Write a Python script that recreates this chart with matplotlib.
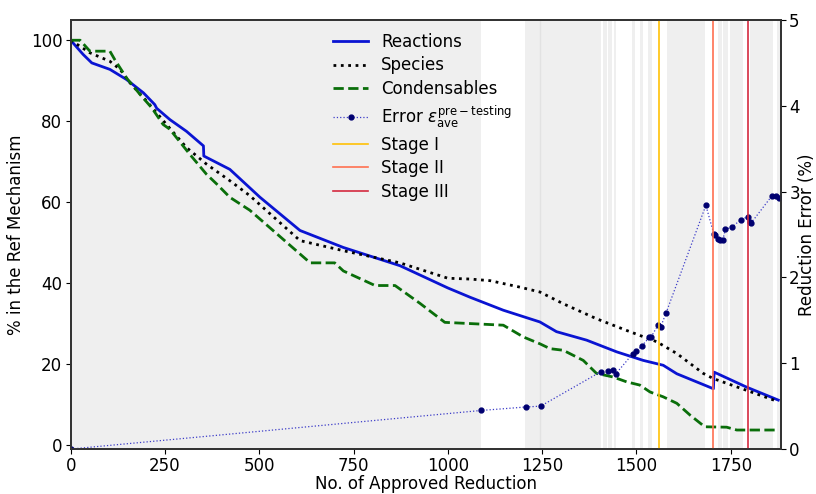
import numpy as np
import matplotlib as mpl
mpl.use('Agg')
import matplotlib.pyplot as plt

# reaction / species / condensables remaining (% of reference mechanism)
react_x = [0, 33, 56, 104, 148, 193, 223, 228, 263, 307, 352, 353, 422, 502,
           608, 723, 873, 1000, 1059, 1147, 1244, 1288, 1368, 1448, 1518,
           1571, 1607, 1704, 1706, 1792, 1876]
react_y = [100, 96.5, 94.4, 92.8, 90.3, 87, 84.1, 83.2, 80.4, 77.5, 73.9, 71.4,
           68.1, 61.2, 53, 48.8, 44.3, 38.8, 36.5, 33.3, 30.4, 28, 25.9, 23,
           20.9, 19.7, 17.6, 13.9, 18.0, 14.3, 11.1]

spec_x = [0, 25, 51, 104, 131, 157, 201, 254, 307, 360, 422, 475, 608, 723,
          873, 1000, 1059, 1112, 1191, 1244, 1306, 1394, 1474, 1554, 1607,
          1677, 1704, 1792, 1876]
spec_y = [100, 98.5, 96.9, 94.8, 92.8, 89.5, 85, 79.2, 73.5, 69.4, 65.3, 61.6,
          50.5, 48, 45, 41.2, 41, 40.6, 39, 37.8, 34.9, 31.2, 28.3, 25.5, 22.6,
          17.7, 16.4, 13.5, 10.7]

cond_x = [0, 25, 51, 104, 117, 148, 184, 215, 245, 263, 316, 360, 387, 422,
          475, 582, 635, 700, 723, 807, 860, 926, 992, 1059, 1147, 1200, 1244,
          1271, 1306, 1359, 1394, 1438, 1474, 1509, 1536, 1571, 1607, 1642,
          1681, 1739, 1766, 1876]
cond_y = [100, 100, 97.3, 97.3, 95.2, 90.7, 86.6, 83.3, 79.2, 78, 71.8, 66.9,
          64.5, 61.2, 58, 49.3, 45, 45, 43, 39.4, 39.4, 35, 30.3, 30, 29.6,
          26.7, 25, 23.8, 23.4, 20.9, 17.7, 16.8, 15.6, 14.8, 13.1, 11.9, 10.3,
          7.4, 4.5, 4.4, 3.7, 3.7]

# average pre-testing reduction error (%)
err_x = [0, 1089, 1207, 1246, 1405, 1425, 1437, 1446, 1490, 1500, 1514, 1534,
         1538, 1558, 1564, 1578, 1684, 1705, 1708, 1717, 1722, 1729, 1736,
         1754, 1776, 1796, 1801, 1805, 1859, 1870, 1879]
err_y = [0.0, 0.45, 0.49, 0.50, 0.90, 0.91, 0.925, 0.88, 1.11, 1.14, 1.2, 1.30,
         1.30, 1.45, 1.42, 1.58, 2.84, 2.51, 2.49, 2.45, 2.44, 2.44, 2.56,
         2.59, 2.67, 2.71, 2.65, 2.64, 2.95, 2.95, 2.93]

stage_x = [1561, 1703, 1795]
stage_names = ['Stage I', 'Stage II', 'Stage III']
stage_cols = ['#ffc107', '#ff7050', '#d42a3f']

# accepted-reduction bands (grey background)
span_start = [0, 1204, 1410, 1425, 1440, 1487, 1509, 1531, 1580, 1717, 1730,
              1748, 1801, 1872]
span_end = [1089, 1405, 1421, 1434, 1447, 1496, 1517, 1540, 1683, 1726, 1743,
            1783, 1862, 1883]

plt.rcParams['font.size'] = 12
fig = plt.figure(figsize=(8.16, 4.94), dpi=100)
ax = fig.add_axes([0.0866, 0.091, 0.8704, 0.8685])

for s, e in zip(span_start, span_end):
    ax.axvspan(s, e, color='#efefef', lw=0, zorder=0)
ax.axvline(1245, color='#e2e2e2', lw=1, zorder=0)

l1, = ax.plot(react_x, react_y, color='#0a14d2', lw=2, label='Reactions')
l2, = ax.plot(spec_x, spec_y, color='black', lw=2, ls=':', label='Species')
l3, = ax.plot(cond_x, cond_y, color='#0a6e0a', lw=2, ls='--',
              label='Condensables')
ax.set_xlim(0, 1883)
ax.set_ylim(-1, 105)
ax.set_xticks([0, 250, 500, 750, 1000, 1250, 1500, 1750])
ax.set_yticks([0, 20, 40, 60, 80, 100])
ax.tick_params(length=3.5, pad=2.5)
ax.set_xlabel('No. of Approved Reduction', labelpad=0)
ax.set_ylabel('% in the Ref Mechanism')

ax2 = ax.twinx()
l4, = ax2.plot(err_x, err_y, color='#3c3cc8', lw=0.9, ls=':', marker='o',
               ms=3.5, mfc='#000070', mec='#000070',
               label=r'Error $\epsilon_{\mathrm{ave}}^{\mathrm{pre-testing}}$')
stage_lines = []
for sx, nm, c in zip(stage_x, stage_names, stage_cols):
    ln = ax2.axvline(sx, color=c, lw=1.2, label=nm)
    stage_lines.append(ln)
ax2.set_ylim(0, 5)
ax2.tick_params(length=3.5, pad=2.5)
ax2.set_ylabel('Reduction Error (%)', labelpad=-1)

for a in (ax, ax2):
    for sp in a.spines.values():
        sp.set_color('#333333')
        sp.set_linewidth(1.3)

handles = [l1, l2, l3, l4] + stage_lines
ax2.legend(handles, [h.get_label() for h in handles], loc='upper left',
           bbox_to_anchor=(0.360, 0.986), borderaxespad=0,
           frameon=False, fontsize=12, labelspacing=0.34, handlelength=2.1,
           handletextpad=0.8)

plt.savefig('out.png', dpi=100)
